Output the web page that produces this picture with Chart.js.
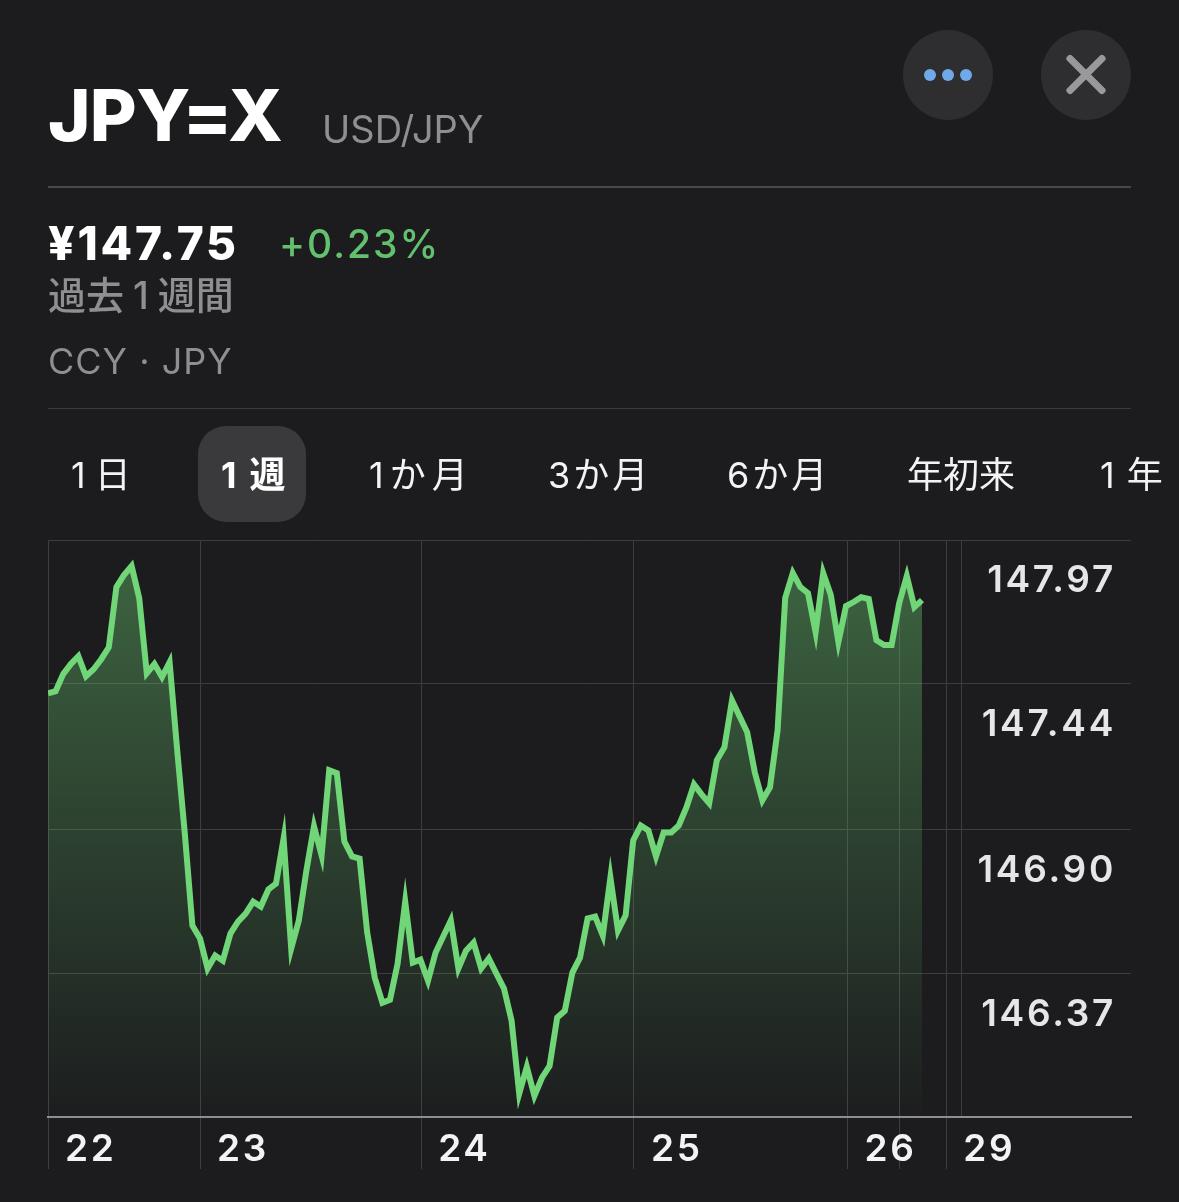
<!DOCTYPE html>
<html lang="ja">
<head>
<meta charset="utf-8">
<title>JPY=X</title>
<script src="https://cdn.jsdelivr.net/npm/chart.js@4"></script>
<style>
  html, body { margin: 0; padding: 0; background: #1c1c1e; }
  body { width: 1179px; height: 1202px; position: relative; overflow: hidden; font-family: Inter, "Noto Sans CJK JP", sans-serif; }
  canvas { position: absolute; left: 0; top: 0; }
  .t { position: absolute; white-space: nowrap; line-height: 1; }
  .rule { position: absolute; left: 48px; width: 1083px; }
  .btn { position: absolute; top: 30px; width: 90px; height: 90px; border-radius: 50%; background: #2e2e31; }
  .dot { position: absolute; top: 39px; width: 12px; height: 12px; border-radius: 50%; background: #70a9ea; }
  .bar { position: absolute; left: 19px; top: 41px; width: 52px; height: 7px; border-radius: 3px; background: #98989d; }
  .tab { position: absolute; top: 457px; font-size: 36px; line-height: 1; color: #f2f2f7; white-space: nowrap; }
</style>
</head>
<body>
<canvas id="chart"></canvas>

<div class="t" style="left:48px;top:79px;font-size:72px;font-weight:800;color:#fff;letter-spacing:-0.6px">JPY=X</div>
<div class="t" style="left:322px;top:110px;font-size:38px;color:#8e8e93">USD/JPY</div>
<div class="rule" style="top:186px;height:2px;background:#48484a"></div>
<div class="t" style="left:48px;top:220px;font-size:46px;font-weight:800;color:#fff;letter-spacing:2.8px">¥147.75</div>
<div class="t" style="left:279px;top:224px;font-size:39px;font-weight:500;color:#62c06e;letter-spacing:2px">+0.23%</div>
<div class="t" style="left:48px;top:276px;font-size:38px;font-weight:500;color:#8e8e93">過去<span style="margin:0 9px">1</span>週間</div>
<div class="t" style="left:48px;top:343px;font-size:36px;color:#8e8e93;letter-spacing:1px">CCY · JPY</div>
<div class="rule" style="top:408px;height:1px;background:#3a3a3c"></div>

<div class="btn" style="left:903px"><i class="dot" style="left:21px"></i><i class="dot" style="left:39px"></i><i class="dot" style="left:57px"></i></div>
<div class="btn" style="left:1041px"><i class="bar" style="transform:rotate(45deg)"></i><i class="bar" style="transform:rotate(-45deg)"></i></div>

<div style="position:absolute;left:198px;top:426px;width:108px;height:96px;border-radius:28px;background:#3a3a3c"></div>
<div class="tab" style="left:71px;letter-spacing:9px">1日</div>
<div class="tab" style="left:221px;font-weight:700;color:#fff;letter-spacing:13px">1週</div>
<div class="tab" style="left:369px;letter-spacing:6px">1か月</div>
<div class="tab" style="left:548px;letter-spacing:3px">3か月</div>
<div class="tab" style="left:727px;letter-spacing:3px">6か月</div>
<div class="tab" style="left:907px">年初来</div>
<div class="tab" style="left:1100px;letter-spacing:12px">1年</div>

<script>
// USD/JPY, one point per trading interval
const prices = [
  147.404, 147.412, 147.475, 147.512, 147.541, 147.467, 147.493, 147.530, 147.574, 147.796,
  147.841, 147.874, 147.756, 147.478, 147.512, 147.464, 147.519, 147.194, 146.887, 146.547,
  146.499, 146.388, 146.436, 146.417, 146.517, 146.561, 146.591, 146.635, 146.617, 146.680,
  146.702, 146.868, 146.462, 146.565, 146.750, 146.913, 146.805, 147.120, 147.109, 146.857,
  146.802, 146.794, 146.521, 146.354, 146.262, 146.273, 146.406, 146.635, 146.410, 146.421,
  146.343, 146.447, 146.506, 146.565, 146.388, 146.454, 146.484, 146.388, 146.425, 146.369,
  146.314, 146.195, 145.926, 146.025, 145.918, 145.985, 146.029, 146.207, 146.232, 146.373,
  146.428, 146.573, 146.580, 146.510, 146.724, 146.528, 146.584, 146.861, 146.916, 146.898,
  146.802, 146.890, 146.890, 146.916, 146.983, 147.068, 147.031, 146.998, 147.157, 147.205,
  147.378, 147.319, 147.260, 147.112, 147.009, 147.057, 147.268, 147.756, 147.848, 147.796,
  147.774, 147.630, 147.848, 147.767, 147.593, 147.726, 147.741, 147.759, 147.752, 147.600,
  147.582, 147.582, 147.737, 147.837, 147.722, 147.748
];
const priceTicks = [147.97, 147.44, 146.90, 146.37, 145.84];
const priceLabels = ['147.97', '147.44', '146.90', '146.37', ''];
const dayTicks = [0, 20, 49.1, 77.1, 105.2, 112, 118.2, 120.2];
const dayLabels = ['22', '23', '24', '25', '26', '', '29', ''];
const xEnd = 142.5;

const canvas = document.getElementById('chart');
canvas.width = 1179;
canvas.height = 1202;
canvas.style.width = '1179px';
canvas.style.height = '1202px';

// sharp spikes and wider digits, Chart.js has no option for either
const canvasStyle = {
  id: 'canvasStyle',
  beforeDraw(chart) {
    chart.ctx.miterLimit = 40;
    chart.ctx.letterSpacing = '2.7px';
  }
};

new Chart(canvas.getContext('2d'), {
  type: 'line',
  plugins: [canvasStyle],
  data: {
    datasets: [{
      data: prices.map((p, i) => ({ x: i, y: p })),
      borderColor: '#70d678',
      borderWidth: 6,
      borderJoinStyle: 'miter',
      pointRadius: 0,
      tension: 0,
      fill: 'start',
      backgroundColor: (c) => {
        const area = c.chart.chartArea;
        if (!area) return 'transparent';
        const g = c.chart.ctx.createLinearGradient(0, area.top, 0, area.bottom);
        g.addColorStop(0, 'rgba(112,214,120,0.40)');
        g.addColorStop(1, 'rgba(112,214,120,0.01)');
        return g;
      }
    }]
  },
  options: {
    responsive: false,
    animation: false,
    devicePixelRatio: 1,
    layout: { padding: { left: 48, right: 48, top: 540, bottom: 0 } },
    plugins: { legend: { display: false }, tooltip: { enabled: false } },
    scales: {
      x: {
        type: 'linear',
        min: 0,
        max: xEnd,
        afterBuildTicks: (s) => { s.ticks = dayTicks.map(v => ({ value: v })); },
        afterFit: (s) => { s.height = 85; },
        border: { color: '#8e8e93', width: 2 },
        grid: {
          color: '#3d3d40',
          lineWidth: 1,
          tickLength: 52,
          tickColor: (c) => dayTicks[c.index] === 120.2 ? 'transparent' : '#3d3d40'
        },
        ticks: {
          autoSkip: false,
          maxRotation: 0,
          align: 'start',
          labelOffset: 17,
          padding: -41,
          color: '#f2f2f7',
          font: { family: 'Inter', size: 37, weight: '600' },
          callback: (v, i) => dayLabels[i]
        }
      },
      y: {
        position: 'right',
        min: 145.84,
        max: 147.97,
        afterBuildTicks: (s) => { s.ticks = priceTicks.map(v => ({ value: v })); },
        afterFit: (s) => { s.width = 0; },
        border: { display: false },
        grid: { color: '#3d3d40', lineWidth: 1, drawTicks: false },
        ticks: {
          autoSkip: false,
          mirror: true,
          padding: -15,
          labelOffset: 41,
          color: '#e5e5ea',
          font: { family: 'Inter', size: 37, weight: '600' },
          callback: (v, i) => priceLabels[i]
        }
      }
    }
  }
});
</script>
</body>
</html>
